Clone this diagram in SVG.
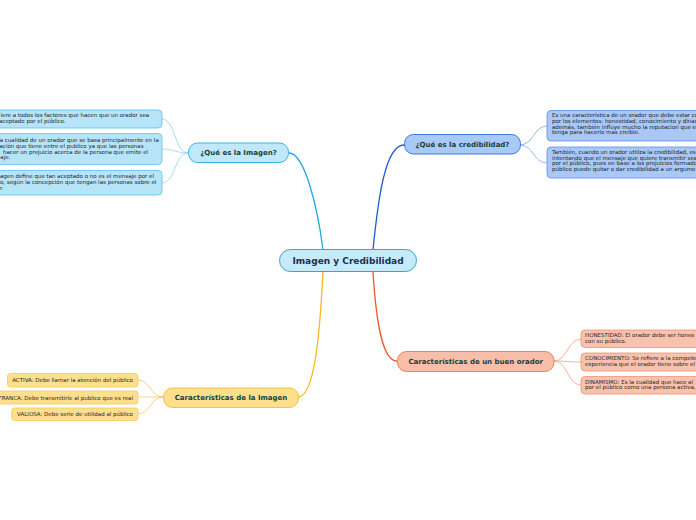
<svg xmlns="http://www.w3.org/2000/svg" width="696" height="520" viewBox="0 0 696 520">
<style>
text{font-family:"DejaVu Sans","Verdana",sans-serif}
.main{font-size:9px;font-weight:bold;fill:#1c2f4f;text-anchor:middle}
.sub{font-size:7px;font-weight:bold;fill:#173f3a;text-anchor:middle}
.sm{font-size:5.5px;fill:#1e1e1e}
.smr{font-size:5.5px;fill:#1e1e1e;text-anchor:end}
.c{fill:none;stroke-linecap:round}
</style>
<rect width="696" height="520" fill="#ffffff"/>
<g id="connectors">
<path class="c" d="M289,153 C305,153 318,210 323,250" stroke="#22a7e5" stroke-width="1.3"/>
<path class="c" d="M373,250 C378,200 385,145 404,145" stroke="#1f5ed0" stroke-width="1.3"/>
<path class="c" d="M373,272 C376,320 382,361 397,361" stroke="#ee5a2b" stroke-width="1.3"/>
<path class="c" d="M323,272 C320,330 315,397 298,397" stroke="#f7b81f" stroke-width="1.3"/>
<path class="c" d="M188,153 C174,153 176,119 162,119" stroke="#92d6f4" stroke-width="0.8"/>
<path class="c" d="M188,153 C175,153 175,149 162,149" stroke="#92d6f4" stroke-width="0.8"/>
<path class="c" d="M188,153 C174,153 176,183 162,183" stroke="#92d6f4" stroke-width="0.8"/>
<path class="c" d="M520,145 C534,145 533,126 547,126" stroke="#7ea9ee" stroke-width="0.8"/>
<path class="c" d="M520,145 C534,145 533,163 547,163" stroke="#7ea9ee" stroke-width="0.8"/>
<path class="c" d="M554,361 C568,361 567,339 581,339" stroke="#f3a285" stroke-width="0.8"/>
<path class="c" d="M554,361 C568,361 567,362 581,362" stroke="#f3a285" stroke-width="0.8"/>
<path class="c" d="M554,361 C568,361 567,385 581,385" stroke="#f3a285" stroke-width="0.8"/>
<path class="c" d="M163,397 C150,397 151,380 138,380" stroke="#f8c859" stroke-width="0.8"/>
<path class="c" d="M163,397 C150,397 151,397 138,397" stroke="#f8c859" stroke-width="0.8"/>
<path class="c" d="M163,397 C150,397 151,414 138,414" stroke="#f8c859" stroke-width="0.8"/>
</g>
<g id="center">
<rect x="279.5" y="249.5" width="137" height="22" rx="11" fill="#c5ebfb" stroke="#3f9fd6" stroke-width="1"/>
<text class="main" x="348" y="263.7">Imagen y Credibilidad</text>
</g>
<g id="imagen">
<rect x="188.5" y="143" width="100" height="19.5" rx="9" fill="#bfe8fb" stroke="#3ab5ea" stroke-width="1"/>
<text class="sub" x="238.5" y="155.2">¿Qué es la Imagen?</text>
</g>
<g id="imagen-1">
<rect x="-10" y="110" width="172" height="18" rx="4" fill="#b6e4f9" stroke="#5cc3ef" stroke-width="0.8"/>
<text class="sm" x="0.5" y="117.3">iere a todos los factores que hacen que un orador sea</text>
<text class="sm" x="-1" y="123.3">aceptado por el público.</text>
</g>
<g id="imagen-2">
<rect x="-10" y="133.5" width="172" height="31" rx="4" fill="#b6e4f9" stroke="#5cc3ef" stroke-width="0.8"/>
<text class="sm" x="-0.3" y="142">a cualidad de un orador que se basa principalmente en la</text>
<text class="sm" x="-0.5" y="147.8">ación que tiene entre el publico ya que las personas</text>
<text class="sm" x="3" y="153.6">hacer un prejuicio acerca de la persona que emite el</text>
<text class="sm" x="0.3" y="159.4">aje.</text>
</g>
<g id="imagen-3">
<rect x="-10" y="170.5" width="172" height="24.5" rx="4" fill="#b6e4f9" stroke="#5cc3ef" stroke-width="0.8"/>
<text class="sm" x="0" y="178.3">agen define que tan aceptado o no es el mensaje por el</text>
<text class="sm" x="0" y="184.1">o, según la concepción que tengan las personas sobre el</text>
<text class="sm" x="0" y="189.9">r.</text>
</g>
<g id="credibilidad">
<rect x="404.5" y="134.5" width="116" height="19.5" rx="9" fill="#a9c9f7" stroke="#3a7be0" stroke-width="1"/>
<text class="sub" x="462.5" y="146.7">¿Qué es la credibilidad?</text>
</g>
<g id="credibilidad-1">
<rect x="547" y="110.5" width="200" height="30.5" rx="4" fill="#a9c8f6" stroke="#5b90e8" stroke-width="0.8"/>
<text class="sm" x="552" y="117.3">Es una característica de un orador que debe estar co</text>
<text class="sm" x="552" y="123">por los elementos: honestidad, conocimiento y dinam</text>
<text class="sm" x="552" y="128.7">además, también influye mucho la reputacion que e</text>
<text class="sm" x="552" y="134.4">tenga para hacerlo mas creíble.</text>
</g>
<g id="credibilidad-2">
<rect x="547" y="147" width="200" height="31" rx="4" fill="#a9c8f6" stroke="#5b90e8" stroke-width="0.8"/>
<text class="sm" x="552" y="154">También, cuando un orador utiliza la credibilidad, es</text>
<text class="sm" x="552" y="159.7">intentando que el mensaje que quiere transmitir sea</text>
<text class="sm" x="552" y="165.4">por el público, pues en base a los prejuicios formado</text>
<text class="sm" x="552" y="171.1">público puede quitar o dar credibilidad a un argume</text>
</g>
<g id="orador">
<rect x="397.5" y="351.5" width="156.5" height="20" rx="9" fill="#f8bea9" stroke="#ef7f5f" stroke-width="1"/>
<text class="sub" x="475.7" y="364">Características de un buen orador</text>
</g>
<g id="orador-1">
<rect x="581" y="330" width="200" height="17.5" rx="4" fill="#f9c2ae" stroke="#f19274" stroke-width="0.8"/>
<text class="sm" x="585" y="337">HONESTIDAD: El orador debe ser hones</text>
<text class="sm" x="585" y="342.7">con su público.</text>
</g>
<g id="orador-2">
<rect x="581" y="353" width="200" height="18" rx="4" fill="#f9c2ae" stroke="#f19274" stroke-width="0.8"/>
<text class="sm" x="585" y="360.2">CONOCIMIENTO: Se refiere a la compete</text>
<text class="sm" x="585" y="365.9">experiencia que el orador tiene sobre el</text>
</g>
<g id="orador-3">
<rect x="581" y="376.5" width="200" height="17.5" rx="4" fill="#f9c2ae" stroke="#f19274" stroke-width="0.8"/>
<text class="sm" x="585" y="383.5">DINAMISMO: Es la cualidad que hace al</text>
<text class="sm" x="585" y="389.2">por el público como una persona activa,</text>
</g>
<g id="caracteristicas-imagen">
<rect x="163.5" y="388" width="135" height="19.5" rx="9" fill="#fddf8e" stroke="#f6c343" stroke-width="1"/>
<text class="sub" x="231" y="400.2">Características de la Imagen</text>
</g>
<g id="activa">
<rect x="7.5" y="373.5" width="130.5" height="13.5" rx="3" fill="#fedf8e" stroke="#f8c954" stroke-width="0.8"/>
<text class="smr" x="133" y="382.2">ACTIVA: Debe llamar la atención del público</text>
</g>
<g id="franca">
<rect x="-10" y="391" width="148" height="13" rx="3" fill="#fedf8e" stroke="#f8c954" stroke-width="0.8"/>
<text class="smr" x="133" y="399.5">FRANCA: Debe transmitirle al publico que es real</text>
</g>
<g id="valiosa">
<rect x="11.7" y="408" width="126.3" height="12.5" rx="3" fill="#fedf8e" stroke="#f8c954" stroke-width="0.8"/>
<text class="smr" x="133" y="416.3">VALIOSA: Debe serle de utilidad al público</text>
</g>
</svg>
